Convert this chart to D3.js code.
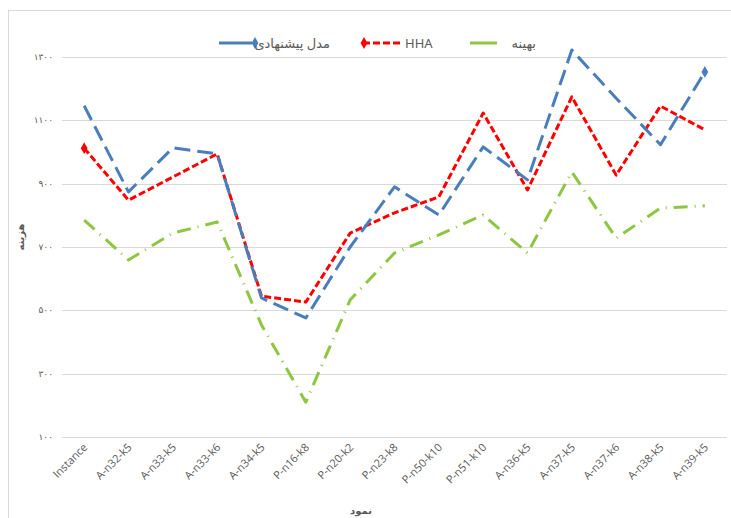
<!DOCTYPE html>
<html>
  <head>
    <meta charset="utf-8">
    <style>
      body { margin: 0; background: #fff; }
      svg { display: block; }
      .grid line { stroke: #d9d9d9; stroke-width: 1; }
      .tick-label { font-family: "DejaVu Sans", sans-serif; font-size: 9px; fill: #595959; }
      .cat-label { font-family: "Open Sans", "Noto Sans", sans-serif; font-size: 11px; fill: #595959; }
      .legend text { font-family: "Noto Sans", "DejaVu Sans", sans-serif; font-size: 13px; fill: #595959; }
      .title { font-family: "Noto Sans", "DejaVu Sans", sans-serif; font-size: 10px; fill: #595959; font-weight: bold; }
    </style>
  </head>
  <body>
    <svg width="731" height="518"></svg>
    <script src="https://d3js.org/d3.v7.min.js"></script>
    <script>
      var categories = ["Instance", "A-n32-k5", "A-n33-k5", "A-n33-k6", "A-n34-k5", "P-n16-k8", "P-n20-k2",
        "P-n23-k8", "P-n50-k10", "P-n51-k10", "A-n36-k5", "A-n37-k5", "A-n37-k6", "A-n38-k5", "A-n39-k5"];
      var proposed = [1146, 874, 1013, 994, 539, 476, 700, 890, 801, 1016, 912, 1322, 1170, 1023, 1253];
      var hha = [1012, 848, 921, 994, 545, 526, 744, 808, 858, 1123, 880, 1174, 927, 1145, 1070];
      var optimal = [785, 659, 744, 779, 454, 210, 533, 681, 738, 801, 681, 937, 728, 823, 830];
      var yTicks = [100, 300, 500, 700, 900, 1100, 1300];

      var svg = d3.select("svg");

      // chart area border (top/left only visible in the crop)
      svg.append("rect")
        .attr("x", 8.5).attr("y", 10.5)
        .attr("width", 740).attr("height", 530)
        .attr("fill", "none").attr("stroke", "#d9d9d9");

      var x = d3.scaleBand()
        .domain(categories)
        .range([62, 727]);

      var y = d3.scaleLinear()
        .domain([100, 1300])
        .range([437, 57]);

      var toFa = function(n) {
        return String(n).replace(/[0-9]/g, function(c) { return "۰۱۲۳۴۵۶۷۸۹"[+c]; });
      };

      svg.append("g")
          .attr("class", "grid")
        .selectAll("line")
        .data(yTicks)
        .enter().append("line")
          .attr("x1", 62).attr("x2", 727)
          .attr("y1", function(d) { return Math.round(y(d)) + 0.5; })
          .attr("y2", function(d) { return Math.round(y(d)) + 0.5; });

      svg.append("g")
        .selectAll("text")
        .data(yTicks)
        .enter().append("text")
          .attr("class", "tick-label")
          .attr("x", 53)
          .attr("y", function(d) { return y(d) + 3; })
          .attr("text-anchor", "end")
          .text(function(d) { return toFa(d); });

      var cx = function(d, i) { return x(categories[i]) + x.bandwidth() / 2; };

      svg.append("g")
        .selectAll("text")
        .data(categories)
        .enter().append("text")
          .attr("class", "cat-label")
          .attr("text-anchor", "end")
          .attr("transform", function(d, i) { return "translate(" + (cx(d, i) + 4) + ",448) rotate(-45)"; })
          .text(function(d) { return d; });

      var line = d3.line()
        .x(cx)
        .y(function(d) { return y(d); });

      var series = [
        { values: optimal, color: "#8dc63f", dash: "14,7,1,7" },
        { values: hha, color: "#ff0000", dash: "7,3" },
        { values: proposed, color: "#4a7ebb", dash: "16,7" }
      ];

      svg.append("g")
        .selectAll("path")
        .data(series)
        .enter().append("path")
          .attr("d", function(s) { return line(s.values); })
          .attr("fill", "none")
          .attr("stroke", function(s) { return s.color; })
          .attr("stroke-width", 3)
          .attr("stroke-linejoin", "round")
          .attr("stroke-dasharray", function(s) { return s.dash; });

      var diamond = d3.symbol().type(d3.symbolDiamond).size(40);

      // markers that show on the ends
      svg.append("path")
        .attr("d", diamond)
        .attr("fill", "#ff0000")
        .attr("transform", "translate(" + cx(null, 0) + "," + y(hha[0]) + ")");
      svg.append("path")
        .attr("d", diamond)
        .attr("fill", "#4a7ebb")
        .attr("transform", "translate(" + cx(null, 14) + "," + y(proposed[14]) + ")");

      // legend
      var legend = svg.append("g").attr("class", "legend");
      var lg1 = legend.append("g");
      lg1.append("line").attr("x1", 219).attr("x2", 252).attr("y1", 43).attr("y2", 43)
        .attr("stroke", "#4a7ebb").attr("stroke-width", 3);
      lg1.append("path").attr("d", diamond).attr("fill", "#4a7ebb").attr("transform", "translate(255,43)");
      lg1.append("text").attr("x", 330).attr("y", 48).attr("text-anchor", "end")
        .text("مدل پیشنهادی");

      var lg2 = legend.append("g");
      lg2.append("line").attr("x1", 363).attr("x2", 401).attr("y1", 43).attr("y2", 43)
        .attr("stroke", "#ff0000").attr("stroke-width", 3).attr("stroke-dasharray", "7,3");
      lg2.append("path").attr("d", diamond).attr("fill", "#ff0000").attr("transform", "translate(364,43)");
      lg2.append("text").attr("x", 405).attr("y", 48).text("HHA");

      var lg3 = legend.append("g");
      lg3.append("line").attr("x1", 470).attr("x2", 497).attr("y1", 43).attr("y2", 43)
        .attr("stroke", "#8dc63f").attr("stroke-width", 3);
      lg3.append("text").attr("x", 536).attr("y", 48).attr("text-anchor", "end")
        .text("بهینه");

      // axis titles
      svg.append("text")
        .attr("class", "title")
        .attr("text-anchor", "middle")
        .attr("transform", "translate(24,237) rotate(-90)")
        .text("هزینه");
      svg.append("text")
        .attr("class", "title")
        .attr("text-anchor", "middle")
        .attr("x", 361).attr("y", 514)
        .text("نمود");
    </script>
  </body>
</html>
